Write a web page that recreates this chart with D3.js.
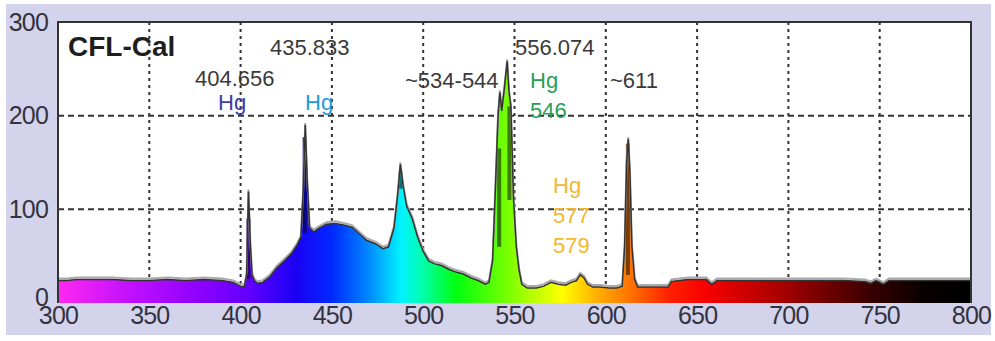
<!DOCTYPE html>
<html>
<head>
<meta charset="utf-8">
<script src="https://cdn.jsdelivr.net/npm/d3@7"></script>
<style>
  body { margin: 0; background: #fff; }
  svg { display: block; font-family: "Liberation Sans", Arial, sans-serif; }
</style>
</head>
<body>
<div id="chart"></div>
<script>
// spectrum trace (nm, counts)
const wavelength = [300,305,310,320,330,340,350,360,370,380,390,396,400,402,403.3,404.3,405.4,406.3,407.5,409,
  412,416,420,424,428,431,433,434.3,435.4,436.5,437.8,440,443,447,452,457,461,465,469,474,478,481,484,486,
  487.5,489,491,494,497,500,503,506,510,514,518,522,526,530,534,536,538,539.5,541,542,543,544.5,546,547,
  548,549.5,551,552.5,554,557,562,566,570,574,578,581,584,586,588,590,593,597,602,606,609,610.3,611.4,
  612.3,613.2,614.3,615.8,617.5,625,634,636,645,655,658,661,670,690,710,730,742,745,748,752,755,770,785,795,800];
const intensity = [24,24,25,25,25,24,24,25,24,25,24,22,18,17,30,119,60,30,24,21,
  22,28,38,45,53,62,70,120,190,130,80,76,80,84,85,83,81,74,67,63,58,60,80,115,
  148,125,103,90,70,55,45,42,40,36,33,31,27,24,20,22,45,120,200,225,205,230,258,225,
  210,110,60,35,20,16,16,18,22,20,19,22,24,30,27,20,17,17,16,16,18,60,150,
  175,140,60,25,17,17,17,23,25,25,20,24,24,24,24,24,23,21,24,20,24,24,24,24,24];

// darker overlaid trace inside the strong lines
const darkWl = [404.3, 435.1, 487.6, 541.6, 547.2, 612.1];
const darkLow = [26, 75, 122, 60, 110, 30];
const darkHigh = [90, 177, 140, 165, 210, 170];

const xTicks = [300,350,400,450,500,550,600,650,700,750,800];
const yTicks = [0,100,200,300];

const width = 995, height = 341;
const svg = d3.select("#chart").append("svg")
  .attr("width", width)
  .attr("height", height);

svg.append("rect").attr("x", 6).attr("y", 4).attr("width", 985).attr("height", 331).attr("fill", "#d3d3ec");

const x = d3.scaleLinear().domain([300, 800]).range([58, 971]);
const y = d3.scaleLinear().domain([0, 300]).range([303, 22]);

svg.append("rect")
  .attr("x", x(300)).attr("y", y(300))
  .attr("width", x(800) - x(300)).attr("height", y(0) - y(300))
  .attr("fill", "#fff");

// visible spectrum colours along the wavelength axis
const spectrumStops = [
  [300, "#ff28f0"], [340, "#c010ff"], [380, "#8a00ff"], [405, "#6000ff"], [430, "#1c00f4"],
  [450, "#0028ff"], [470, "#0088ff"], [488, "#00f4ff"], [500, "#00ffa8"], [518, "#00ff10"],
  [548, "#80ff00"], [576, "#ffff00"], [595, "#ffb000"], [612, "#ff7800"], [635, "#ff2000"],
  [655, "#f80000"], [700, "#a00000"], [745, "#380000"], [775, "#080000"], [800, "#000000"]];
const spectrum = d3.scaleLinear()
  .domain(spectrumStops.map(d => d[0]))
  .range(spectrumStops.map(d => d[1]));

const grad = svg.append("defs").append("linearGradient")
  .attr("id", "spec")
  .attr("gradientUnits", "userSpaceOnUse")
  .attr("x1", x(300)).attr("x2", x(800))
  .attr("y1", 0).attr("y2", 0);
grad.selectAll("stop")
  .data(spectrumStops)
  .join("stop")
  .attr("offset", d => (d[0] - 300) / 500)
  .attr("stop-color", d => d[1]);

// grid
svg.append("g")
  .attr("stroke", "#333")
  .attr("stroke-width", 2)
  .attr("stroke-dasharray", "3,4")
  .selectAll("line")
  .data(xTicks.slice(1, -1))
  .join("line")
  .attr("x1", d => x(d)).attr("x2", d => x(d))
  .attr("y1", y(300)).attr("y2", y(0));

svg.append("g")
  .attr("stroke", "#333")
  .attr("stroke-width", 2)
  .attr("stroke-dasharray", "6,4")
  .selectAll("line")
  .data(yTicks.slice(1))
  .join("line")
  .attr("x1", x(300)).attr("x2", x(800))
  .attr("y1", d => y(d)).attr("y2", d => y(d));

const pts = wavelength.map((w, i) => [w, intensity[i]]);

svg.append("path")
  .datum(pts)
  .attr("fill", "url(#spec)")
  .attr("d", d3.area().x(d => x(d[0])).y0(y(0)).y1(d => y(d[1])));

svg.append("g")
  .selectAll("rect")
  .data(darkWl)
  .join("rect")
  .attr("x", d => x(d) - 2)
  .attr("width", 4)
  .attr("y", (d, i) => y(darkHigh[i]))
  .attr("height", (d, i) => y(darkLow[i]) - y(darkHigh[i]))
  .attr("fill", d => d3.color(spectrum(d)).darker(2));

const line = d3.line().x(d => x(d[0])).y(d => y(d[1]));

svg.append("path")
  .datum(pts)
  .attr("fill", "none")
  .attr("stroke", "#aaa")
  .attr("stroke-width", 2)
  .attr("transform", "translate(0,-2)")
  .attr("d", line);

svg.append("path")
  .datum(pts)
  .attr("fill", "none")
  .attr("stroke", "#333")
  .attr("stroke-width", 1.5)
  .attr("d", line);

// frame
svg.append("path")
  .attr("fill", "none")
  .attr("stroke", "#333")
  .attr("stroke-width", 2)
  .attr("d", `M${x(300)},${y(0)}V${y(300)}H${x(800)}V${y(0)}`);

// axes
const xAxis = svg.append("g")
  .attr("transform", `translate(0,${y(0)})`)
  .call(d3.axisBottom(x).tickValues(xTicks).tickSize(0).tickPadding(3));
xAxis.select(".domain").remove();
xAxis.selectAll("text")
  .attr("font-size", 25)
  .attr("letter-spacing", "-0.8px")
  .attr("font-family", "Liberation Sans, Arial, sans-serif")
  .attr("fill", "#333340");

const yAxis = svg.append("g")
  .attr("transform", `translate(${x(300)},0)`)
  .call(d3.axisLeft(y).tickValues(yTicks).tickSize(0).tickPadding(10));
yAxis.select(".domain").remove();
yAxis.selectAll("text")
  .attr("font-size", 25)
  .attr("letter-spacing", "-0.8px")
  .attr("font-family", "Liberation Sans, Arial, sans-serif")
  .attr("fill", "#333340");
yAxis.selectAll(".tick").filter(d => d === 0).select("text").attr("dy", "0.1em");

// annotations
svg.append("text").attr("x", 68).attr("y", 56)
  .attr("font-size", 28).attr("font-weight", "bold").attr("fill", "#1e1e1e")
  .text("CFL-Cal");

const notes = [
  ["435.833", 270, 55, "#3a3a3a"],
  ["404.656", 195, 86, "#3a3a3a"],
  ["Hg", 218, 110, "#3c3caa"],
  ["Hg", 305, 110, "#1e9be0"],
  ["~534-544", 405, 88, "#3a3a3a"],
  ["556.074", 515, 55, "#3a3a3a"],
  ["~611", 610, 88, "#3a3a3a"],
  ["Hg", 530, 88, "#2a9f55"],
  ["546", 530, 118, "#2a9f55"],
  ["Hg", 553, 193, "#f2b730"],
  ["577", 553, 223, "#f2b730"],
  ["579", 553, 253, "#f2b730"]
];
svg.append("g")
  .attr("font-size", 22)
  .selectAll("text")
  .data(notes)
  .join("text")
  .attr("x", d => d[1])
  .attr("y", d => d[2])
  .attr("fill", d => d[3])
  .text(d => d[0]);
</script>
</body>
</html>
